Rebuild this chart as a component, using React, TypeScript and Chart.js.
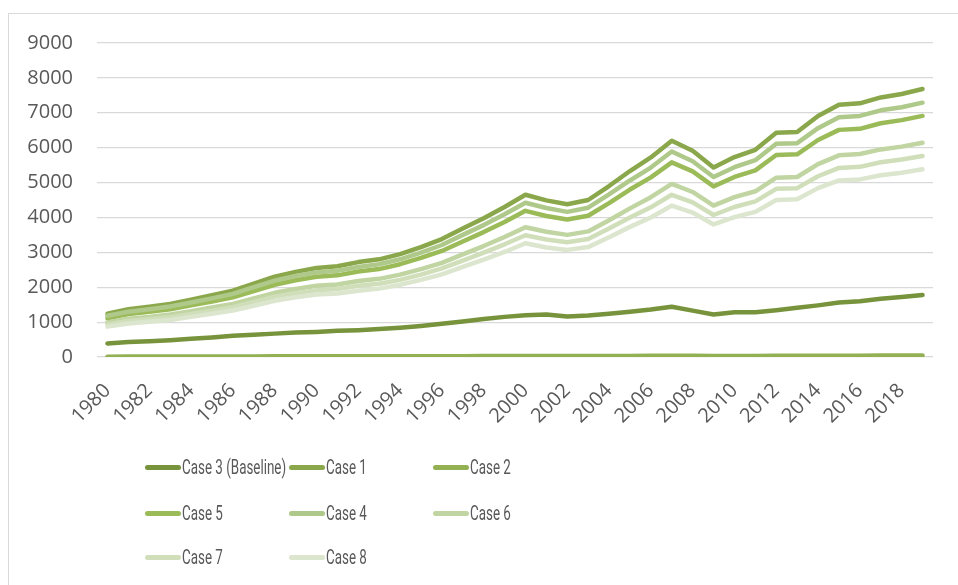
import React, { useEffect, useRef } from "react";
import { Chart, registerables } from "chart.js";

Chart.register(...registerables);

const years = [
  "1980","1981","1982","1983","1984","1985","1986","1987","1988","1989",
  "1990","1991","1992","1993","1994","1995","1996","1997","1998","1999",
  "2000","2001","2002","2003","2004","2005","2006","2007","2008","2009",
  "2010","2011","2012","2013","2014","2015","2016","2017","2018","2019",
];

const case3Baseline = [390,430,450,480,520,560,610,640,670,700,720,750,770,800,840,890,950,1020,1090,1150,1200,1220,1160,1190,1240,1300,1360,1440,1330,1220,1280,1280,1340,1410,1480,1560,1600,1670,1720,1780];
const case1 = [1240,1370,1440,1520,1640,1770,1900,2100,2300,2440,2550,2600,2720,2800,2950,3150,3380,3680,3980,4300,4650,4490,4380,4500,4900,5330,5720,6200,5910,5430,5730,5940,6430,6450,6910,7230,7270,7440,7540,7680];
const case2 = [10,11,12,13,14,15,16,17,18,19,20,20,21,21,22,23,24,25,27,28,30,30,29,30,31,32,33,35,33,31,32,32,33,34,36,38,39,41,42,44];
const case5 = [1110,1230,1300,1370,1480,1590,1710,1890,2070,2200,2300,2340,2450,2520,2660,2840,3040,3310,3580,3870,4190,4040,3940,4050,4410,4800,5150,5580,5320,4890,5160,5350,5790,5810,6220,6510,6540,6700,6790,6910];
const case4 = [1180,1300,1370,1450,1560,1680,1810,2000,2190,2320,2420,2470,2580,2660,2800,2990,3210,3500,3780,4090,4420,4270,4160,4280,4660,5060,5430,5890,5610,5160,5440,5640,6110,6130,6560,6870,6910,7070,7160,7290];
const case6 = [990,1100,1150,1220,1310,1420,1520,1680,1840,1950,2040,2080,2180,2240,2360,2520,2700,2940,3180,3440,3720,3590,3500,3600,3920,4260,4580,4960,4730,4340,4580,4750,5140,5160,5530,5780,5820,5950,6030,6140];
const case7 = [930,1030,1080,1140,1230,1330,1430,1580,1730,1830,1910,1950,2040,2100,2210,2360,2540,2760,2990,3230,3490,3370,3290,3380,3680,4000,4290,4650,4430,4070,4300,4460,4820,4840,5180,5420,5450,5580,5660,5760];
const case8 = [870,960,1010,1060,1150,1240,1330,1470,1610,1710,1790,1820,1900,1960,2070,2210,2370,2580,2790,3010,3260,3140,3070,3150,3430,3730,4000,4340,4140,3800,4010,4160,4500,4520,4840,5060,5090,5210,5280,5380];

const seriesNames = ["Case 3 (Baseline)","Case 1","Case 2","Case 5","Case 4","Case 6","Case 7","Case 8"];
const seriesData = [case3Baseline, case1, case2, case5, case4, case6, case7, case8];
const seriesColors = ["#77933C","#8AA84B","#93B153","#9BBB59","#AFC98A","#C1D5A2","#D0DFBA","#DCE6CE"];

const yTicks = [0,1000,2000,3000,4000,5000,6000,7000,8000,9000];

export default function App() {
  const ref = useRef<HTMLCanvasElement | null>(null);

  useEffect(() => {
    if (!ref.current) return;
    const n = seriesNames.length;
    const chart = new Chart(ref.current, {
      type: "line",
      data: {
        labels: years,
        datasets: seriesNames.map((name, i) => ({
          label: name,
          data: seriesData[i],
          borderColor: seriesColors[i],
          backgroundColor: seriesColors[i],
          borderWidth: 4.5,
          borderCapStyle: "round",
          borderJoinStyle: "round",
          pointRadius: 0,
          tension: 0,
          fill: false,
          order: n - i,
        })),
      },
      options: {
        animation: false,
        responsive: false,
        maintainAspectRatio: false,
        layout: { padding: { top: 43, left: 0, right: 25, bottom: 128 } },
        plugins: { legend: { display: false }, tooltip: { enabled: false } },
        scales: {
          x: {
            type: "category",
            offset: true,
            grid: { display: false },
            border: { display: false },
            ticks: {
              autoSkip: false,
              maxRotation: 45,
              minRotation: 45,
              color: "#595959",
              padding: 14,
              font: { family: "'Open Sans'", size: 20 },
              callback: function (_v: any, idx: number) {
                const y = years[idx];
                return Number(y) % 2 === 0 ? y : "";
              },
            },
            afterFit: (s: any) => { s.height = 100; },
          },
          y: {
            min: yTicks[0],
            max: yTicks[yTicks.length - 1],
            afterBuildTicks: (s: any) => { s.ticks = yTicks.map((v) => ({ value: v })); },
            grid: { color: "#d9d9d9", lineWidth: 1.2, drawTicks: false },
            border: { display: false },
            ticks: {
              color: "#595959",
              padding: 24,
              font: { family: "'Open Sans'", size: 20 },
              callback: (v: any) => String(v),
            },
            afterFit: (s: any) => { s.width = 97; },
          },
        },
      },
    });
    return () => chart.destroy();
  }, []);

  const colX = [145, 289, 433];
  const rowY = [467, 513, 557];

  return (
    <div style={{ position: "fixed", left: 0, top: 0, width: 958, height: 585, background: "#fff", overflow: "hidden" }}>
      <div style={{ position: "absolute", left: 8, top: 13, width: 2000, height: 2000, border: "1px solid #d9d9d9" }} />
      <canvas ref={ref} width={958} height={585} style={{ position: "absolute", left: 0, top: 0, width: 958, height: 585 }} />
      {seriesNames.map((name, i) => {
        const c = i % 3;
        const r = Math.floor(i / 3);
        return (
          <div key={name} style={{ position: "absolute", left: colX[c], top: rowY[r] - 14, height: 28, display: "flex", alignItems: "center", whiteSpace: "nowrap" }}>
            <div style={{ width: 36, height: 5, borderRadius: 3, background: seriesColors[i], marginRight: 1 }} />
            <span style={{ display: "inline-block", fontFamily: "Roboto", fontSize: 20, color: "#595959", transform: "scaleX(0.67)", transformOrigin: "left center" }}>{name}</span>
          </div>
        );
      })}
    </div>
  );
}
